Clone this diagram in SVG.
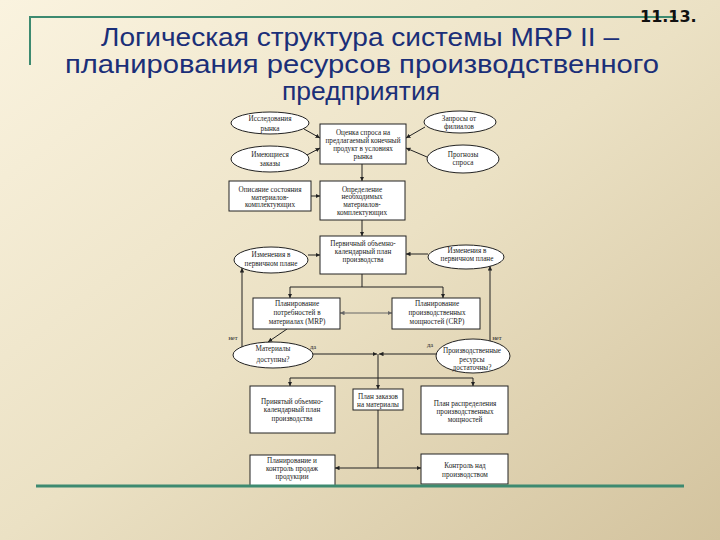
<svg xmlns="http://www.w3.org/2000/svg" width="720" height="540" viewBox="0 0 720 540">
<defs>
<linearGradient id="bg" x1="0" y1="0" x2="1" y2="1">
<stop offset="0" stop-color="#faf3df"/>
<stop offset="0.5" stop-color="#ebe1c4"/>
<stop offset="1" stop-color="#d3c39e"/>
</linearGradient>
<marker id="ah" viewBox="0 0 8 8" refX="8" refY="4" markerWidth="4.5" markerHeight="4.5" orient="auto-start-reverse" markerUnits="userSpaceOnUse">
<path d="M0,0 L8,4 L0,8 Z" fill="#222"/>
</marker>
<marker id="ahg" viewBox="0 0 8 8" refX="8" refY="4" markerWidth="4.5" markerHeight="4.5" orient="auto-start-reverse" markerUnits="userSpaceOnUse">
<path d="M0,0 L8,4 L0,8 Z" fill="#666"/>
</marker>
</defs>
<style>
.title{font-family:"Liberation Sans",Arial,sans-serif;font-size:25.5px;fill:#1b2f78;text-anchor:middle}
.num{font-family:"DejaVu Sans",sans-serif;font-weight:bold;font-size:16px;fill:#111}
.box{fill:#fff;stroke:#222;stroke-width:1}
.t{font-family:"Liberation Serif","Times New Roman",serif;font-size:7.2px;fill:#222;text-anchor:middle}
.lbl{font-family:"Liberation Serif","Times New Roman",serif;font-size:6.5px;fill:#222;text-anchor:middle}
.c{fill:none;stroke:#222;stroke-width:1}
.a{fill:none;stroke:#222;stroke-width:1;marker-end:url(#ah)}
.teal{stroke:#3d8a70;fill:none}
</style>
<rect width="720" height="540" fill="url(#bg)"/>

<g id="frame">
<polyline class="teal" stroke-width="2" points="30,65 30,17 676,17"/>
</g>
<g id="title">
<text class="num" x="640" y="22">11.13.</text>
<text class="title" x="360" y="46" textLength="518" lengthAdjust="spacingAndGlyphs">Логическая структура системы MRP II –</text>
<text class="title" x="362" y="73" textLength="594" lengthAdjust="spacingAndGlyphs">планирования ресурсов производственного</text>
<text class="title" x="361" y="100" textLength="158" lengthAdjust="spacingAndGlyphs">предприятия</text>
</g>

<g id="connectors">
<line class="a" x1="304" y1="129" x2="320" y2="138"/>
<line class="a" x1="307" y1="155" x2="320" y2="148"/>
<line class="a" x1="425" y1="127" x2="406" y2="138"/>
<line class="a" x1="427" y1="157" x2="406" y2="148"/>
<line class="a" x1="362" y1="164" x2="362" y2="181"/>
<line class="a" x1="311" y1="196" x2="320" y2="196"/>
<line class="a" x1="362" y1="220" x2="362" y2="236"/>
<line class="a" x1="308" y1="255" x2="320" y2="255"/>
<line class="a" x1="428" y1="254" x2="406" y2="254"/>
<polyline class="c" points="362,274 362,287"/>
<polyline class="a" points="290,287 290,298"/>
<polyline class="c" points="290,287 443,287"/>
<polyline class="a" points="443,287 443,298"/>
<line x1="340" y1="313" x2="392" y2="313" stroke="#666" stroke-width="1" marker-start="url(#ahg)" marker-end="url(#ahg)"/>
<line class="a" x1="287" y1="329" x2="268" y2="342"/>
<polyline class="a" points="242,347 242,268"/>
<polyline class="a" points="490,342 490,266"/>
<line class="a" x1="313" y1="354" x2="377" y2="354"/>
<line class="a" x1="437" y1="354" x2="379" y2="354"/>
<polyline class="c" points="378,354 378,378"/>
<polyline class="c" points="290,378 473,378"/>
<polyline class="a" points="290,378 290,386"/>
<polyline class="a" points="378,378 378,389"/>
<polyline class="a" points="473,378 473,386"/>
<polyline class="c" points="378,410 378,468"/>
<line class="a" x1="378" y1="468" x2="335" y2="468"/>
<line class="a" x1="378" y1="468" x2="421" y2="468"/>
<text class="lbl" x="233" y="340">нет</text>
<text class="lbl" x="497" y="340">нет</text>
<text class="lbl" x="313" y="349">да</text>
<text class="lbl" x="430" y="347">да</text>
</g>

<g id="n-research">
<ellipse class="box" cx="270" cy="123" rx="39" ry="11"/>
<text class="t"><tspan x="270" y="120.5">Исследования</tspan><tspan x="270" y="130.5">рынка</tspan></text>
</g>
<g id="n-orders">
<ellipse class="box" cx="270" cy="159" rx="39" ry="13"/>
<text class="t"><tspan x="270" y="156.5">Имеющиеся</tspan><tspan x="270" y="165.5">заказы</tspan></text>
</g>
<g id="n-demand">
<rect class="box" x="320" y="124" width="86" height="40"/>
<text class="t"><tspan x="363" y="134.5">Оценка спроса на</tspan><tspan x="363" y="142.8">предлагаемый конечный</tspan><tspan x="363" y="151">продукт в условиях</tspan><tspan x="363" y="159.3">рынка</tspan></text>
</g>
<g id="n-requests">
<ellipse class="box" cx="460" cy="122" rx="36" ry="11"/>
<text class="t"><tspan x="459" y="120.8">Запросы от</tspan><tspan x="459" y="129.2">филиалов</tspan></text>
</g>
<g id="n-forecast">
<ellipse class="box" cx="463" cy="159" rx="36" ry="14"/>
<text class="t"><tspan x="463" y="156.5">Прогнозы</tspan><tspan x="463" y="164.5">спроса</tspan></text>
</g>
<g id="n-state">
<rect class="box" x="229" y="181" width="82" height="30"/>
<text class="t"><tspan x="270" y="191.5">Описание состояния</tspan><tspan x="270" y="199.5">материалов-</tspan><tspan x="270" y="207">комплектующих</tspan></text>
</g>
<g id="n-needs">
<rect class="box" x="320" y="181" width="85" height="39"/>
<text class="t"><tspan x="362" y="191.5">Определение</tspan><tspan x="362" y="199.2">необходимых</tspan><tspan x="362" y="206.8">материалов-</tspan><tspan x="362" y="214.8">комплектующих</tspan></text>
</g>
<g id="n-primary">
<rect class="box" x="320" y="236" width="86" height="38"/>
<text class="t"><tspan x="363" y="245.5">Первичный объемно-</tspan><tspan x="363" y="253.5">календарный план</tspan><tspan x="363" y="261.5">производства</tspan></text>
</g>
<g id="n-changes-left">
<ellipse class="box" cx="271" cy="260" rx="37" ry="13"/>
<text class="t"><tspan x="271" y="257">Изменения в</tspan><tspan x="271" y="265.5">первичном плане</tspan></text>
</g>
<g id="n-changes-right">
<ellipse class="box" cx="466" cy="257" rx="38" ry="12"/>
<text class="t"><tspan x="467" y="252.5">Изменения в</tspan><tspan x="467" y="261">первичном плане</tspan></text>
</g>
<g id="n-mrp">
<rect class="box" x="253" y="298" width="87" height="31"/>
<text class="t"><tspan x="297" y="305.5">Планирование</tspan><tspan x="297" y="314.5">потребностей в</tspan><tspan x="297" y="323.5">материалах (MRP)</tspan></text>
</g>
<g id="n-crp">
<rect class="box" x="392" y="298" width="88" height="31"/>
<text class="t"><tspan x="437" y="305.5">Планирование</tspan><tspan x="437" y="314.5">производственных</tspan><tspan x="437" y="323.5">мощностей (CRP)</tspan></text>
</g>
<g id="n-materials">
<ellipse class="box" cx="273" cy="355" rx="40" ry="13"/>
<text class="t"><tspan x="273" y="351">Материалы</tspan><tspan x="273" y="362">доступны?</tspan></text>
</g>
<g id="n-resources">
<ellipse class="box" cx="473" cy="356" rx="37" ry="17"/>
<text class="t"><tspan x="472" y="352.5">Производственные</tspan><tspan x="472" y="361.5">ресурсы</tspan><tspan x="472" y="369.5">достаточны?</tspan></text>
</g>
<g id="n-accepted">
<rect class="box" x="250" y="386" width="85" height="47"/>
<text class="t"><tspan x="292" y="403.5">Принятый объемно-</tspan><tspan x="292" y="411.5">календарный план</tspan><tspan x="292" y="420.5">производства</tspan></text>
</g>
<g id="n-orders-plan">
<rect class="box" x="353" y="389" width="50" height="21"/>
<text class="t"><tspan x="378" y="398.5">План заказов</tspan><tspan x="378" y="406.5">на материалы</tspan></text>
</g>
<g id="n-capacity-plan">
<rect class="box" x="421" y="386" width="87" height="48"/>
<text class="t"><tspan x="465" y="405.5">План распределения</tspan><tspan x="465" y="414">производственных</tspan><tspan x="465" y="422">мощностей</tspan></text>
</g>
<g id="n-sales">
<rect class="box" x="250" y="455" width="85" height="31"/>
<text class="t"><tspan x="292" y="462.5">Планирование и</tspan><tspan x="292" y="470.5">контроль продаж</tspan><tspan x="292" y="479">продукции</tspan></text>
</g>
<g id="n-control">
<rect class="box" x="421" y="454" width="87" height="30"/>
<text class="t"><tspan x="465" y="467.5">Контроль над</tspan><tspan x="465" y="477">производством</tspan></text>
</g>
<g id="bottom-rule">
<line class="teal" stroke-width="3" x1="36" y1="486" x2="684" y2="486"/>
</g>
</svg>
